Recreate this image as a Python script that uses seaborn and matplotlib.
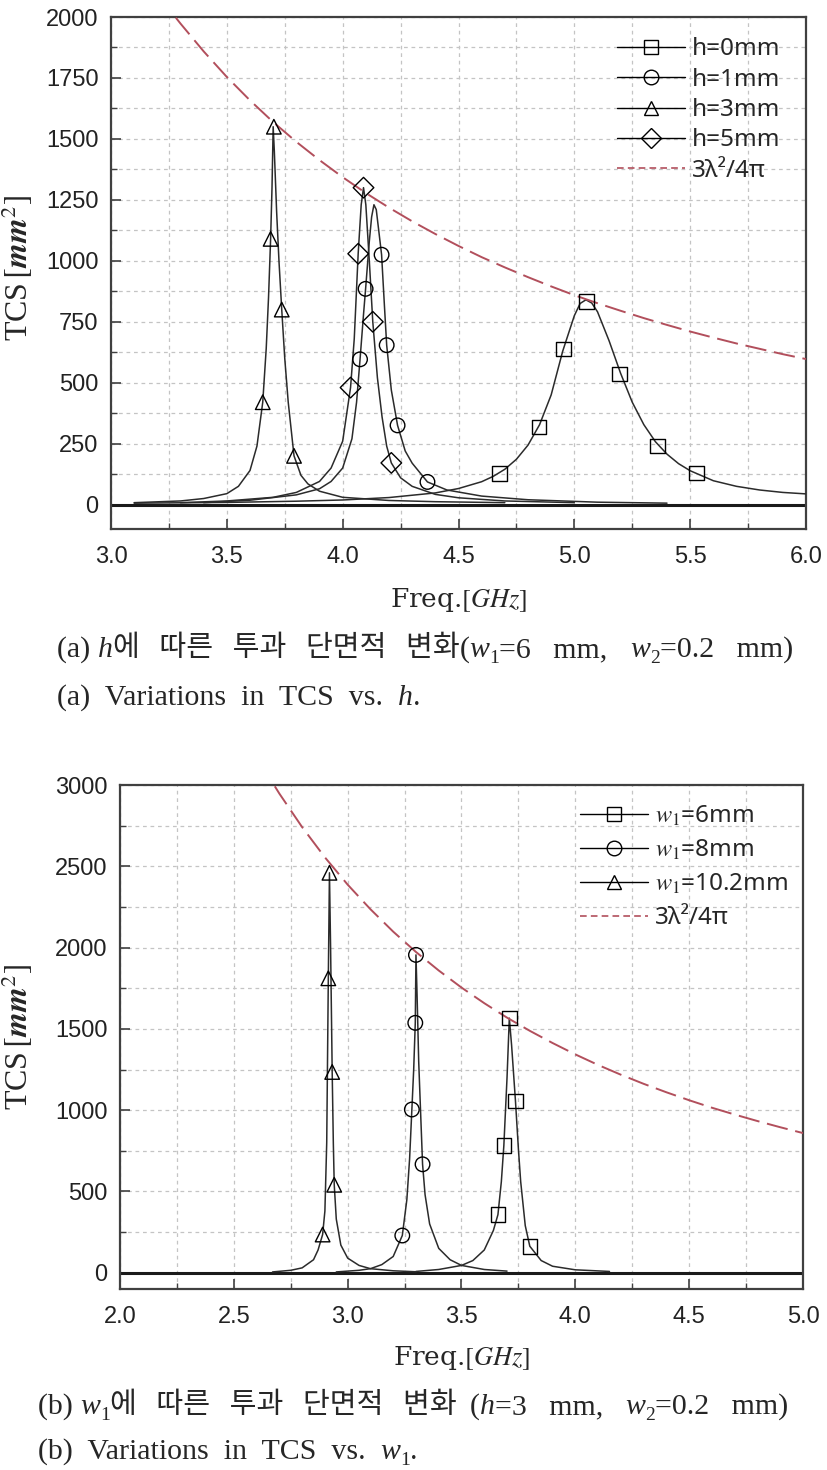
import numpy as np
import pandas as pd
import seaborn as sns
import matplotlib.pyplot as plt
from matplotlib.lines import Line2D
from matplotlib.ticker import MultipleLocator, FormatStrFormatter

# ---------------- (a) TCS vs h ----------------
h0_f = [3.1, 3.5, 3.8, 4.0, 4.2, 4.4, 4.5, 4.6, 4.65, 4.7, 4.75, 4.8, 4.85, 4.9, 4.95, 5.0, 5.025, 5.05,
        5.075, 5.1, 5.15, 5.2, 5.25, 5.3, 5.35, 5.4, 5.45, 5.5, 5.6, 5.7, 5.8, 5.9, 6.0]
h0_t = [6, 9, 14, 19, 29, 48, 66, 94, 116, 145, 186, 244, 328, 450, 630, 775, 825, 840,
        827, 791, 672, 538, 420, 328, 258, 207, 168, 139, 98, 75, 60, 50, 44]
h1_f = [3.4, 3.6, 3.8, 3.9, 3.95, 4.0, 4.04, 4.06, 4.075, 4.09, 4.099, 4.115, 4.125, 4.135, 4.145, 4.155,
        4.168, 4.18, 4.19, 4.21, 4.237, 4.27, 4.3, 4.366, 4.45, 4.6, 4.8, 5.1, 5.4]
h1_t = [8, 18, 40, 65, 95, 150, 270, 420, 596, 780, 885, 1080, 1180, 1230, 1210, 1130,
        1025, 820, 654, 470, 325, 220, 170, 93, 60, 35, 20, 10, 6]
h3_f = [3.1, 3.3, 3.4, 3.5, 3.55, 3.6, 3.63, 3.655, 3.67, 3.68, 3.689, 3.695, 3.70, 3.705, 3.715, 3.725,
        3.737, 3.75, 3.765, 3.79, 3.82, 3.85, 3.9, 4.0, 4.2, 4.4, 4.7]
h3_t = [8, 15, 25, 45, 75, 140, 240, 420, 640, 850, 1090, 1300, 1550, 1450, 1200, 1000,
        800, 600, 420, 200, 120, 85, 55, 30, 17, 12, 8]
h5_f = [3.3, 3.5, 3.7, 3.8, 3.9, 3.95, 4.0, 4.034, 4.05, 4.067, 4.08, 4.09, 4.1, 4.115, 4.13, 4.15,
        4.17, 4.19, 4.21, 4.25, 4.3, 4.4, 4.5, 4.7, 5.0]
h5_t = [8, 15, 30, 50, 95, 150, 260, 480, 680, 1030, 1230, 1300, 1230, 1000, 750, 520,
        360, 240, 171, 110, 75, 42, 28, 15, 8]

# marker positions (a)
h0_mf = [4.677, 4.848, 4.953, 5.053, 5.195, 5.36, 5.528]
h0_mt = [128, 318, 638, 832, 535, 240, 130]
h1_mf = [4.075, 4.099, 4.168, 4.19, 4.237, 4.366]
h1_mt = [596, 885, 1025, 654, 325, 93]
h3_mf = [3.655, 3.689, 3.703, 3.737, 3.79]
h3_mt = [420, 1090, 1550, 800, 200]
h5_mf = [4.034, 4.067, 4.09, 4.13, 4.21]
h5_mt = [480, 1029, 1300, 750, 171]

lim_a_f = [3.28, 3.3, 3.4, 3.5, 3.6, 3.7, 3.8, 3.9, 4.0, 4.1, 4.2, 4.3, 4.4, 4.5, 4.6, 4.7, 4.8, 4.9,
           5.0, 5.1, 5.2, 5.3, 5.4, 5.5, 5.6, 5.7, 5.8, 5.9, 6.0]
lim_a_t = [1997, 1973, 1859, 1754, 1658, 1569, 1488, 1413, 1343, 1278, 1218, 1162, 1110, 1061, 1015, 973,
           933, 895, 859, 826, 795, 765, 737, 710, 685, 661, 639, 617, 597]

# ---------------- (b) TCS vs w1 ----------------
w6_f = [3.3, 3.4, 3.5, 3.55, 3.6, 3.64, 3.66, 3.675, 3.686, 3.70, 3.71, 3.72, 3.737, 3.75, 3.76, 3.78,
        3.80, 3.85, 3.9, 4.0, 4.15]
w6_t = [8, 20, 45, 75, 140, 260, 357, 560, 782, 1200, 1566, 1400, 1057, 760, 560, 290,
        163, 75, 40, 18, 8]
w8_f = [2.95, 3.05, 3.1, 3.15, 3.2, 3.24, 3.26, 3.272, 3.282, 3.29, 3.297, 3.30, 3.305, 3.312, 3.32, 3.329,
        3.34, 3.36, 3.4, 3.45, 3.5, 3.6, 3.7]
w8_t = [5, 15, 25, 50, 100, 229, 450, 700, 1004, 1250, 1537, 1955, 1700, 1300, 1000, 667,
        480, 300, 150, 80, 45, 20, 10]
w10_f = [2.67, 2.75, 2.8, 2.85, 2.87, 2.89, 2.9, 2.908, 2.915, 2.92, 2.925, 2.932, 2.937, 2.941, 2.95, 2.97,
         3.0, 3.05, 3.1, 3.2, 3.3]
w10_t = [5, 15, 30, 80, 140, 235, 380, 800, 1811, 2460, 2000, 1235, 800, 541, 330, 170,
         90, 45, 25, 12, 6]

w6_mf = [3.66, 3.686, 3.71, 3.737, 3.80]
w6_mt = [357, 782, 1566, 1057, 163]
w8_mf = [3.24, 3.282, 3.297, 3.30, 3.329]
w8_mt = [229, 1004, 1537, 1955, 667]
w10_mf = [2.89, 2.915, 2.92, 2.932, 2.941]
w10_mt = [235, 1811, 2460, 1235, 541]

lim_b_f = [2.68, 2.7, 2.8, 2.9, 3.0, 3.1, 3.2, 3.3, 3.4, 3.5, 3.6, 3.7, 3.8, 3.9, 4.0, 4.1, 4.2, 4.3,
           4.4, 4.5, 4.6, 4.7, 4.8, 4.9, 5.0]
lim_b_t = [2992, 2947, 2741, 2555, 2387, 2236, 2098, 1973, 1859, 1754, 1658, 1569, 1488, 1413, 1343, 1278,
           1218, 1162, 1110, 1061, 1015, 973, 933, 895, 859]

labels_a = ['h=0mm', 'h=1mm', 'h=3mm', 'h=5mm']
labels_b = [r'$w_1$=6mm', r'$w_1$=8mm', r'$w_1$=10.2mm']

sns.set_theme(style='white')
plt.rcParams['mathtext.fontset'] = 'stix'
plt.rcParams['font.family'] = ['Liberation Sans', 'DejaVu Sans']

LINE = '#2b2b2b'
RED = '#b24f5c'
GRID = '#c4c4c4'
SERIF = ['Liberation Serif', 'DejaVu Serif']
KR = ['Noto Sans CJK KR', 'DejaVu Sans']

fig = plt.figure(figsize=(8.27, 14.7), dpi=100)
ax_a = fig.add_axes([111 / 827, 1 - 529 / 1470, 695 / 827, 512 / 1470])
ax_b = fig.add_axes([120 / 827, 1 - 1289 / 1470, 683 / 827, 504 / 1470])


def long_df(series):
    frames = []
    for name, f, t in series:
        frames.append(pd.DataFrame({'freq': f, 'tcs': t, 'name': name}))
    return pd.concat(frames, ignore_index=True)


def style_axes(ax, xlim, ylim, ymaj, ymin):
    ax.set_xlim(*xlim)
    ax.set_ylim(*ylim)
    ax.xaxis.set_major_locator(MultipleLocator(0.5))
    ax.xaxis.set_minor_locator(MultipleLocator(0.25))
    ax.yaxis.set_major_locator(MultipleLocator(ymaj))
    ax.yaxis.set_minor_locator(MultipleLocator(ymin))
    ax.xaxis.set_major_formatter(FormatStrFormatter('%.1f'))
    ax.grid(True, which='both', color=GRID, linestyle=(0, (3, 3)), linewidth=0.9)
    ax.set_axisbelow(True)
    ax.tick_params(which='both', direction='in', colors='#404040', labelcolor='#222222',
                   bottom=True, left=True, top=False, right=False)
    ax.tick_params(which='major', length=7, width=1.2, labelsize=17)
    ax.tick_params(which='minor', length=4, width=1.0)
    ax.tick_params(axis='x', which='major', pad=12)
    ax.tick_params(axis='y', which='major', pad=9)
    for sp in ax.spines.values():
        sp.set_color('#404040')
        sp.set_linewidth(1.6)
    ax.set_xlabel('Freq.$[\\mathit{GHz}]$', fontsize=19, family=['DejaVu Serif'])
    ax.set_ylabel('TCS$\\,[\\mathbfit{mm}^{2}]$', fontsize=23, family=SERIF)


def draw_panel(ax, series, markers, mlist, lim_f, lim_t, labels, legend_anchor, rowgap):
    df = long_df(series)
    ax.axhline(0, color='#1a1a1a', lw=2.2, zorder=2)
    sns.lineplot(data=df, x='freq', y='tcs', units='name', estimator=None, sort=False,
                 color=LINE, lw=1.1, ax=ax, zorder=3)
    for (mf, mt), m in zip(markers, mlist):
        sns.scatterplot(x=mf, y=mt, marker=m, s=110, color='black', facecolor='none',
                        edgecolor='black', linewidth=1.0, ax=ax, zorder=4)
    sns.lineplot(x=lim_f, y=lim_t, color=RED, lw=1.4, ax=ax, zorder=3, dashes=False,
                 linestyle=(0, (11, 4)))
    handles = [Line2D([], [], color='black', lw=1.0, marker=m, ms=10.5, mfc='none', mec='black')
               for m in mlist]
    handles.append(Line2D([], [], color=RED, lw=1.2, linestyle=(0, (4, 2.5))))
    ax.legend(handles, labels + ['3λ²/4π'], loc='upper left', bbox_to_anchor=legend_anchor,
              frameon=False, prop={'family': 'Noto Sans', 'size': 17.5}, handlelength=2.8,
              handletextpad=0.3, borderpad=0, borderaxespad=0, labelspacing=rowgap)


draw_panel(ax_a,
           [('h0', h0_f, h0_t), ('h1', h1_f, h1_t), ('h3', h3_f, h3_t), ('h5', h5_f, h5_t)],
           [(h0_mf, h0_mt), (h1_mf, h1_mt), (h3_mf, h3_mt), (h5_mf, h5_mt)],
           ['s', 'o', '^', 'D'], lim_a_f, lim_a_t, labels_a, (0.728, 0.96), 0.26)
style_axes(ax_a, (3.0, 6.0), (-100, 2000), 250, 125)
ax_a.xaxis.set_label_coords(0.5, -0.112)
ax_a.yaxis.set_label_coords(-0.11, 0.51)

draw_panel(ax_b,
           [('w6', w6_f, w6_t), ('w8', w8_f, w8_t), ('w10', w10_f, w10_t)],
           [(w6_mf, w6_mt), (w8_mf, w8_mt), (w10_mf, w10_mt)],
           ['s', 'o', '^'], lim_b_f, lim_b_t, labels_b, (0.673, 0.962), 0.4)
style_axes(ax_b, (2.0, 5.0), (-100, 3000), 500, 250)
ax_b.xaxis.set_label_coords(0.5, -0.11)
ax_b.yaxis.set_label_coords(-0.124, 0.5)


# captions: chain pieces so italic / subscript / Korean parts sit side by side
def caption(ax, x_px, y_px, pieces):
    first = None
    prev = None
    for txt, kind in pieces:
        size = 21.5
        fam = SERIF
        style = 'normal'
        dy = 0
        if kind == 'it':
            style = 'italic'
        elif kind == 'sub':
            size = 14
            dy = -3
        elif kind == 'kr':
            fam = KR
            size = 21
        if first is None:
            first = fig.text(x_px / 827, 1 - y_px / 1470, txt, fontsize=size, family=fam,
                             style=style, va='baseline', ha='left')
            prev = first
        else:
            prev = ax.annotate(txt, xy=(1, 0), xycoords=(prev, first), xytext=(0, dy),
                               textcoords='offset points', fontsize=size, family=fam,
                               style=style, va='bottom', ha='left', annotation_clip=False)


caption(ax_a, 57, 657, [('(a) ', 'n'), ('h', 'it'), ('에   따른   투과   단면적   변화', 'kr'), ('(', 'n'),
                        ('w', 'it'), ('1', 'sub'), ('=6   mm,   ', 'n'), ('w', 'it'), ('2', 'sub'),
                        ('=0.2   mm)', 'n')])
caption(ax_a, 57, 705, [('(a)  Variations  in  TCS  vs.  ', 'n'), ('h', 'it'), ('.', 'n')])
caption(ax_b, 38, 1414, [('(b) ', 'n'), ('w', 'it'), ('1', 'sub'), ('에   따른   투과   단면적   변화  ', 'kr'),
                         ('(', 'n'), ('h', 'it'), ('=3   mm,   ', 'n'), ('w', 'it'), ('2', 'sub'),
                         ('=0.2   mm)', 'n')])
caption(ax_b, 38, 1459, [('(b)  Variations  in  TCS  vs.  ', 'n'), ('w', 'it'), ('1', 'sub'),
                         ('.', 'n')])

fig.savefig('out.png', dpi=100)
